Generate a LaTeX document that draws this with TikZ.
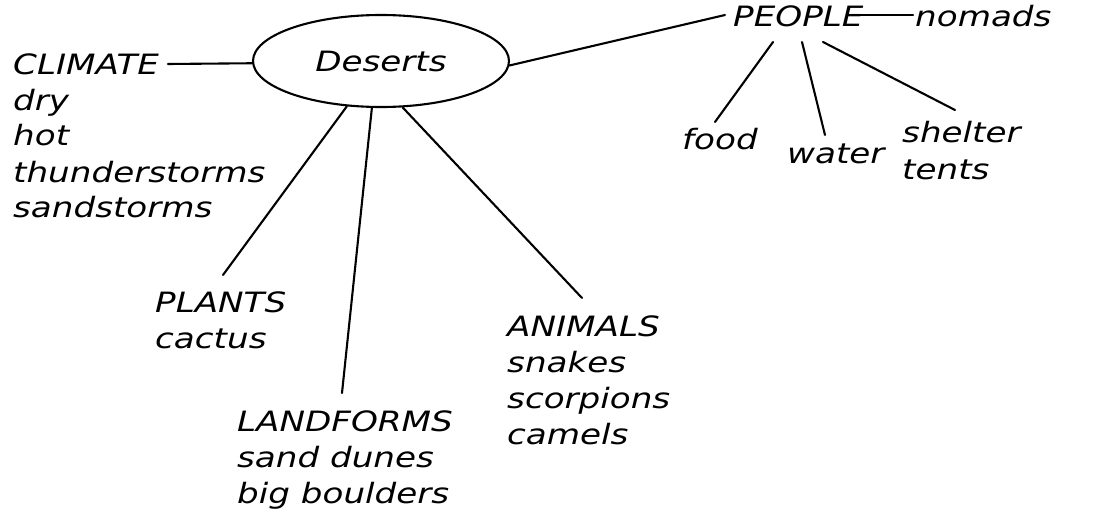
\documentclass[tikz,border=0pt]{standalone}
\usepackage{fontspec}
\setmainfont{DejaVu Sans}[FakeStretch=1.22]
\usetikzlibrary{shapes.geometric}
\begin{document}
\begin{tikzpicture}[x=1pt,y=-1pt,
  lbl/.style={font=\fontsize{28}{36}\selectfont\itshape, align=left, inner sep=0pt, anchor=base west},
  link/.style={line width=2.1pt, line cap=round}]
\useasboundingbox (0,0) rectangle (1093,516);
% central ellipse
\node[draw, line width=2.1pt, ellipse, minimum width=256pt, minimum height=92pt, inner sep=0pt,
      font=\fontsize{28}{36}\selectfont\itshape] (des) at (381,61) {Deserts};
% text nodes (anchored at the baseline of their last line)
\node[lbl] (climate) at (13,218) {CLIMATE\\dry\\hot\\thunderstorms\\sandstorms};
\node[lbl] (plants) at (155,348) {PLANTS\\cactus};
\node[lbl] (landforms) at (237,503) {LANDFORMS\\sand dunes\\big boulders};
\node[lbl] (animals) at (507,444) {ANIMALS\\snakes\\scorpions\\camels};
\node[lbl] (people) at (733,27) {PEOPLE};
\node[lbl] (nomads) at (915,27) {nomads};
\node[lbl] (food) at (682,150) {food};
\node[lbl] (water) at (787,164) {water};
\node[lbl] (shelter) at (902,179) {shelter\\tents};
% connector end points
\coordinate (climE) at (168,64);
\coordinate (plT) at (223,275);
\coordinate (laT) at (342,393);
\coordinate (anT) at (582,298);
\coordinate (peW) at (725,15);
\coordinate (peN1) at (859,15);
\coordinate (noW) at (913,15);
\coordinate (peB1) at (773,42);
\coordinate (peB2) at (802,42);
\coordinate (peB3) at (823,42);
\coordinate (foT) at (715,122);
\coordinate (waT) at (825,135);
\coordinate (shT) at (955,110);
% connectors
\draw[link] (climE) -- (des.181);
\draw[link] (des.233) -- (plT);
\draw[link] (des.259) -- (laT);
\draw[link] (des.295) -- (anT);
\draw[link] (des.358) -- (peW);
\draw[link] (peN1) -- (noW);
\draw[link] (peB1) -- (foT);
\draw[link] (peB2) -- (waT);
\draw[link] (peB3) -- (shT);
\end{tikzpicture}
\end{document}
